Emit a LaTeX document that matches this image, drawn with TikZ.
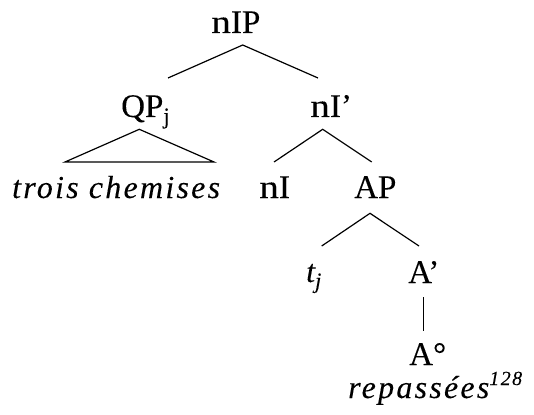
\documentclass[tikz,border=0pt]{standalone}
\usepackage{fontspec}
\setmainfont{Liberation Serif}[Ligatures=ResetAll,FakeBold=0.12]
\newfontfamily\itsp{Liberation Serif}[LetterSpace=7,FakeBold=0.12]
\newcommand\wn{\scalebox{1.2}[1]{n}}
\begin{document}
\begin{tikzpicture}[x=1pt,y=-1pt,
  lab/.style={inner sep=0pt,anchor=base west,font=\fontsize{33}{38}\selectfont},
  ital/.style={inner sep=0pt,anchor=base west,font=\fontsize{32}{38}\selectfont\itsp\itshape},
  branch/.style={line width=1.2pt}]
\useasboundingbox (0,0) rectangle (534,414);
% nodes
\node[lab] (nIP) at (211,33) {\wn IP};
\node[lab] (QP) at (121,117) {QP\textsubscript{j}};
\node[lab] (nIbar) at (310,117) {\wn I{\char"27}};
\node[ital] (trois) at (12,198) {trois chemises};
\node[lab] (nI) at (259,198) {\wn I};
\node[lab] (AP) at (354,198) {AP};
\node[ital] (t) at (306,282) {t\textsubscript{j}};
\node[lab] (Abar) at (408,283) {A{\char"27}};
\node[lab] (Adeg) at (409,365) {A°};
\node[ital] (rep) at (348,398) {repassées\raisebox{13pt}{\fontsize{20}{22}\selectfont 128}};
% branch points
\coordinate (nIPb) at (242.7,45);
\coordinate (QPt) at (168,78);
\coordinate (nIbart) at (318,78);
\coordinate (QPb) at (139.3,129.3);
\coordinate (trL) at (65,162);
\coordinate (trR) at (214,162);
\coordinate (nIbarb) at (322.7,129.3);
\coordinate (nIt) at (274,162);
\coordinate (APt) at (371.7,162);
\coordinate (APb) at (370,213.3);
\coordinate (tt) at (321.7,246);
\coordinate (Abart) at (419,246);
\coordinate (Abarb) at (423.3,297);
\coordinate (Adegt) at (423.3,331);
\draw[branch] (QPt) -- (nIPb) -- (nIbart);
\draw[branch] (trL) -- (QPb) -- (trR) -- cycle;
\draw[branch] (nIt) -- (nIbarb) -- (APt);
\draw[branch] (tt) -- (APb) -- (Abart);
\draw[branch] (Abarb) -- (Adegt);
\end{tikzpicture}
\end{document}
